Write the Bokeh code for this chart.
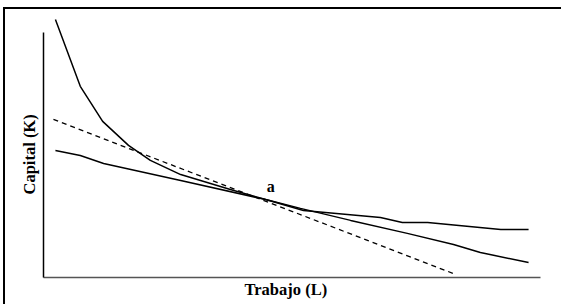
from bokeh.plotting import figure
from bokeh.models import Range1d, Label, Title
from bokeh.embed import file_html
from bokeh.resources import INLINE

# Isocuanta convexa (capital-intensiva a la izquierda)
curve1_x = [0.24, 0.74, 1.19, 1.71, 2.15, 2.76, 3.76, 4.47, 5.17, 6.18, 7.32, 8.25, 8.79, 9.76]
curve1_y = [10.53, 7.80, 6.37, 5.39, 4.78, 4.20, 3.59, 3.18, 2.82, 2.33, 1.80, 1.35, 1.02, 0.61]

# Isocuanta más plana
curve2_x = [0.24, 0.74, 1.21, 2.76, 4.47, 5.23, 6.78, 7.22, 7.73, 9.20, 9.76]
curve2_y = [5.18, 4.98, 4.65, 3.96, 3.18, 2.73, 2.45, 2.24, 2.24, 1.96, 1.96]

# Recta de isocoste (discontinua)
iso_x = [0.20, 8.25]
iso_y = [6.45, 0.16]

point_label = "a"
point_xy = (4.57, 3.71)

x_title = "Trabajo (L)"
y_title = "Capital (K)"

FONT = "Liberation Serif"

p = figure(width=558, height=297, output_backend="svg", toolbar_location=None,
           x_range=Range1d(0, 10), y_range=Range1d(0, 10.69),
           min_border_left=38, min_border_right=23, min_border_top=6, min_border_bottom=29)
p.styles = {"margin-left": "3px", "margin-top": "7px",
            "border-left": "2px solid black", "border-top": "2px solid black"}
p.grid.visible = False
p.outline_line_color = None
p.background_fill_color = "white"
p.border_fill_color = "white"

for ax in (p.xaxis[0], p.yaxis[0]):
    ax.ticker = []
    ax.major_tick_line_color = None
    ax.minor_tick_line_color = None
    ax.major_label_text_font_size = "0px"
    ax.major_label_standoff = 0
    ax.major_tick_out = 0
    ax.major_tick_in = 0

p.yaxis.bounds = (0, 10)
p.yaxis.axis_line_color = "black"
p.yaxis.axis_line_width = 1.5
p.xaxis.axis_line_color = "#555555"
p.xaxis.axis_line_width = 1.5

p.line(curve1_x, curve1_y, line_color="black", line_width=1.5)
p.line(curve2_x, curve2_y, line_color="black", line_width=1.5)
p.line(iso_x, iso_y, line_color="black", line_width=1.3, line_dash="5 4")

p.add_layout(Label(x=point_xy[0], y=point_xy[1], text=point_label,
                   text_font=FONT, text_font_style="bold", text_font_size="16px",
                   text_align="center", text_baseline="middle", text_color="black"))

p.add_layout(Title(text=y_title, align="left", offset=83, standoff=9,
                   text_font=FONT, text_font_style="bold", text_font_size="16.5px",
                   text_color="black"), "left")
p.add_layout(Title(text=x_title, align="left", offset=201, standoff=0,
                   text_font=FONT, text_font_style="bold", text_font_size="16.5px",
                   text_color="black"), "below")

open("out.html", "w").write(file_html(p, INLINE))
